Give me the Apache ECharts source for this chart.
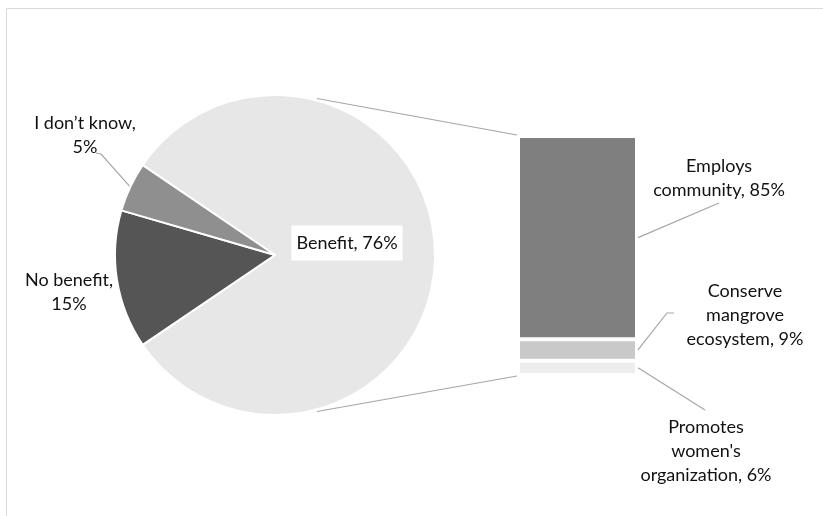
<!DOCTYPE html>
<html>
<head>
<meta charset="utf-8">
<script src="https://cdn.jsdelivr.net/npm/echarts@6/dist/echarts.min.js"></script>
<style>
  html, body { margin: 0; padding: 0; background: #fff; }
  #chart { width: 823px; height: 516px; }
</style>
</head>
<body>
<div id="chart"></div>
<script>
// Pie: does the activity benefit the community?
const pieNames = ['Benefit', 'No benefit', 'I don\u2019t know'];
const piePct = [76, 15, 5];      // percentages as labelled
const pieShare = [81, 14, 5];    // slice sizes as drawn in the source chart
const pieColors = ['#e7e7e7', '#555555', '#8f8f8f'];

// Bar: breakdown of "Benefit" (top to bottom)
const barNames = ['Employs\ncommunity', 'Conserve\nmangrove\necosystem', 'Promotes\nwomen\'s\norganization'];
const barPct = [85, 9, 6];
const barColors = ['#7f7f7f', '#c9c9c9', '#ededed'];

const FONT = 'Lato, sans-serif';
const CX = 275, CY = 255, R = 160;
const BAR = { left: 518, top: 136, width: 119, height: 239 };

const chart = echarts.init(document.getElementById('chart'));

// where the pie labels sit
const pieLabelPos = [
  { x: 347, y: 243 },
  { x: 69, y: 292 },
  { x: 85, y: 135 }
];
// where the bar labels sit
const barLabelPos = [
  { x: 719, y: 178 },
  { x: 745, y: 315 },
  { x: 706, y: 451 }
];

// stacked bottom-first, so reverse the top-down lists
const stackOrder = [2, 1, 0];

const option = {
  backgroundColor: '#fff',
  animation: false,
  textStyle: { fontFamily: FONT },
  grid: { left: BAR.left, top: BAR.top, width: BAR.width, height: BAR.height },
  xAxis: { type: 'category', data: ['Benefit'], show: false },
  yAxis: { type: 'value', min: 0, max: 100, show: false },
  series: [
    {
      type: 'pie',
      center: [CX, CY],
      radius: R,
      startAngle: 145.8,
      clockwise: true,
      avoidLabelOverlap: false,
      silent: true,
      itemStyle: { borderColor: '#fff', borderWidth: 2 },
      data: pieNames.map((n, i) => ({
        name: n,
        value: pieShare[i],
        itemStyle: { color: pieColors[i] },
        label: i === 0
          ? { position: 'inside', backgroundColor: '#fff', padding: [6, 5, 5, 5] }
          : { position: 'outside' },
        labelLine: { show: false }
      })),
      label: {
        color: '#111',
        fontSize: 18,
        fontFamily: FONT,
        lineHeight: 24,
        formatter: p => p.dataIndex === 0
          ? p.name + ', ' + piePct[p.dataIndex] + '%'
          : p.name + ',\n' + piePct[p.dataIndex] + '%'
      },
      labelLayout: p => ({
        x: pieLabelPos[p.dataIndex].x,
        y: pieLabelPos[p.dataIndex].y,
        align: 'center',
        verticalAlign: 'middle'
      })
    },
    ...stackOrder.map(i => ({
      type: 'bar',
      name: barNames[i],
      stack: 'benefit',
      barWidth: '100%',
      silent: true,
      itemStyle: { color: barColors[i], borderColor: '#fff', borderWidth: 2 },
      data: [barPct[i]],
      label: {
        show: true,
        position: 'right',
        color: '#111',
        fontSize: 18,
        fontFamily: FONT,
        lineHeight: 24,
        align: 'center',
        formatter: () => barNames[i] + ', ' + barPct[i] + '%'
      },
      labelLayout: () => ({
        x: barLabelPos[i].x,
        y: barLabelPos[i].y,
        align: 'center',
        verticalAlign: 'middle'
      })
    }))
  ]
};

chart.setOption(option);

// connector and leader lines, worked out from the drawn geometry
const lineStyle = { stroke: '#a6a6a6', lineWidth: 1.2 };
const rad = a => a * Math.PI / 180;
const onPie = (a, r) => [CX + r * Math.cos(rad(a)), CY - r * Math.sin(rad(a))];

const barTop = chart.convertToPixel({ gridIndex: 0 }, [0, 100]);
const barBottom = chart.convertToPixel({ gridIndex: 0 }, [0, 0]);
const barLeft = BAR.left, barRight = BAR.left + BAR.width + 1;

// mid value of each segment (top-down)
const mids = [];
let acc = 100;
barPct.forEach(v => { mids.push(acc - v / 2); acc -= v; });
const midY = mids.map(m => chart.convertToPixel({ gridIndex: 0 }, [0, m])[1]);

// mid angle of "I don't know" slice
const totalShare = pieShare.reduce((a, b) => a + b, 0);
const idkMid = 145.8 + pieShare[2] / totalShare * 360 / 2;

chart.setOption({
  graphic: [
    { type: 'rect', shape: { x: 6.5, y: 8.5, width: 840, height: 540 },
      style: { fill: null, stroke: '#d9d9d9', lineWidth: 1 }, silent: true },
    { type: 'line', shape: { x1: onPie(75, R + 2)[0], y1: onPie(75, R + 2)[1], x2: barLeft - 1, y2: barTop[1] - 1 },
      style: lineStyle, silent: true },
    { type: 'line', shape: { x1: onPie(-75, R + 2)[0], y1: onPie(-75, R + 2)[1], x2: barLeft - 1, y2: barBottom[1] + 1 },
      style: lineStyle, silent: true },
    { type: 'polyline', shape: { points: [onPie(idkMid, R), [101, 154], [96, 153]] },
      style: Object.assign({ fill: null }, lineStyle), silent: true },
    { type: 'line', shape: { x1: barRight, y1: midY[0], x2: 719, y2: 203 },
      style: lineStyle, silent: true },
    { type: 'polyline', shape: { points: [[barRight, midY[1]], [667, 313], [674, 313]] },
      style: Object.assign({ fill: null }, lineStyle), silent: true },
    { type: 'line', shape: { x1: barRight, y1: midY[2], x2: 705, y2: 410 },
      style: lineStyle, silent: true }
  ]
});
</script>
</body>
</html>
